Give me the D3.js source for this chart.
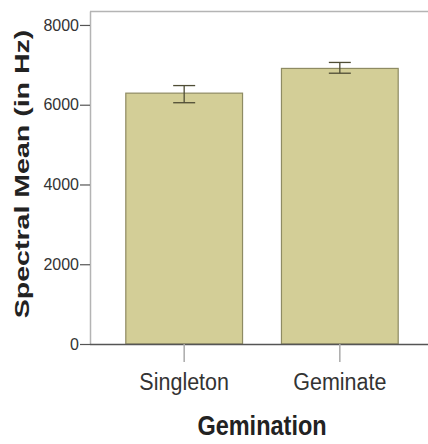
<!DOCTYPE html>
<html>
<head>
<meta charset="utf-8">
<script src="https://cdn.jsdelivr.net/npm/d3@7/dist/d3.min.js"></script>
<style>
  html, body { margin: 0; padding: 0; background: #ffffff; }
  svg { display: block; font-family: "Liberation Sans", Arial, sans-serif; }
</style>
</head>
<body>
<svg id="chart" width="428" height="444"></svg>
<script>
// Mean spectral frequency by gemination, with error bars
const categories = ["Singleton", "Geminate"];
const means = [6290, 6910];
const errLow = [6050, 6790];
const errHigh = [6480, 7060];
const yTicks = [0, 2000, 4000, 6000, 8000];

const svg = d3.select("#chart");
const plotLeft = 90, plotRight = 434, plotTop = 11, plotBottom = 344;

const x = d3.scaleBand()
  .domain(categories)
  .range([plotLeft, plotRight])
  .paddingInner(0.25)
  .paddingOuter(0.23);

const y = d3.scaleLinear()
  .domain([0, 8350])
  .range([plotBottom, plotTop]);

// frame top border
svg.append("line")
  .attr("x1", plotLeft).attr("x2", 428)
  .attr("y1", plotTop + 0.5).attr("y2", plotTop + 0.5)
  .attr("stroke", "#b4b4b4").attr("stroke-width", 1.5);

// bars
svg.append("g").selectAll("rect")
  .data(categories)
  .join("rect")
  .attr("x", d => x(d))
  .attr("width", x.bandwidth())
  .attr("y", (d, i) => y(means[i]))
  .attr("height", (d, i) => y(0) - y(means[i]))
  .attr("fill", "#d3ce97")
  .attr("stroke", "#8e8b63")
  .attr("stroke-width", 1.2);

// error bars
const eb = svg.append("g").attr("stroke", "#4f4d35").attr("stroke-width", 1.3);
categories.forEach((c, i) => {
  const cx = x(c) + x.bandwidth() / 2;
  eb.append("line").attr("x1", cx).attr("x2", cx)
    .attr("y1", y(errLow[i])).attr("y2", y(errHigh[i]));
  [errLow[i], errHigh[i]].forEach(v => {
    eb.append("line").attr("x1", cx - 11).attr("x2", cx + 11)
      .attr("y1", y(v)).attr("y2", y(v));
  });
});

// y axis
const yAxis = svg.append("g")
  .attr("transform", `translate(${plotLeft},0)`)
  .call(d3.axisLeft(y).tickValues(yTicks).tickFormat(d3.format("d"))
    .tickSize(10).tickSizeOuter(0).tickPadding(1));
yAxis.select(".domain").attr("stroke", "#b4b4b4").attr("stroke-width", 1.5);
yAxis.selectAll(".tick line").attr("stroke", "#555").attr("stroke-width", 1.2);
yAxis.selectAll(".tick text")
  .attr("fill", "#333")
  .style("font-size", "16px");

// x axis
const xAxis = svg.append("g")
  .attr("transform", `translate(0,${plotBottom})`)
  .call(d3.axisBottom(x).tickSize(18).tickSizeOuter(0).tickFormat(""));
xAxis.select(".domain").attr("stroke", "#555").attr("stroke-width", 1.5)
  .attr("d", `M${plotLeft},0.5H428`);
xAxis.selectAll(".tick line").attr("stroke", "#aaa").attr("stroke-width", 1.5);

// category labels
svg.append("g").selectAll("text")
  .data(categories)
  .join("text")
  .attr("transform", d => `translate(${x(d) + x.bandwidth() / 2},390) scale(1,1.15)`)
  .attr("text-anchor", "middle")
  .attr("fill", "#333")
  .style("font-size", "21.5px")
  .text(d => d);

// axis titles
svg.append("text")
  .attr("transform", "translate(262,435) scale(1,1.15)")
  .attr("text-anchor", "middle")
  .attr("fill", "#222")
  .style("font-size", "23.5px")
  .style("font-weight", "bold")
  .text("Gemination");

svg.append("text")
  .attr("transform", "translate(29,174) rotate(-90) scale(1.36,1)")
  .attr("text-anchor", "middle")
  .attr("fill", "#222")
  .style("font-size", "21px")
  .style("font-weight", "bold")
  .text("Spectral Mean (in Hz)");
</script>
</body>
</html>
